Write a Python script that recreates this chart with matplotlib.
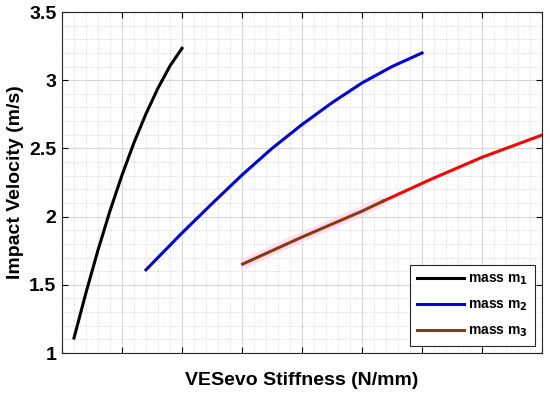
import numpy as np
import matplotlib.pyplot as plt
from matplotlib.ticker import MultipleLocator

plt.rcParams['font.family'] = ['Liberation Sans', 'DejaVu Sans']
plt.rcParams['font.weight'] = 'bold'
plt.rcParams['mathtext.default'] = 'bf'

# mass m1
x1 = [0.2, 0.4, 0.6, 0.8, 1.0, 1.2, 1.4, 1.6, 1.8, 2.0]
v1 = [1.11, 1.442, 1.754, 2.042, 2.304, 2.542, 2.754, 2.942, 3.105, 3.234]
# mass m2
x2 = [1.4, 2.0, 2.5, 3.0, 3.5, 4.0, 4.5, 5.0, 5.5, 6.0]
v2 = [1.61, 1.88, 2.095, 2.305, 2.50, 2.675, 2.835, 2.98, 3.10, 3.20]
# mass m3 (brown part, then red continuation)
x3 = [3.01, 3.5, 4.0, 4.5, 5.0, 5.355]
v3 = [1.652, 1.75, 1.85, 1.945, 2.04, 2.114]
x3r = [5.355, 6.13, 7.0, 8.0]
v3r = [2.114, 2.27, 2.435, 2.598]

fig = plt.figure(figsize=(5.5, 3.95), dpi=100)
ax = fig.add_axes([0.1127, 0.1063, 0.8728, 0.8633])

ax.plot(x1, v1, color='black', lw=2.2, label='mass m$_1$', zorder=4)
ax.plot(x2, v2, color='#0000e0', lw=2.2, label='mass m$_2$', zorder=4)
ax.plot(x3, v3, color='#ffd0ee', lw=7, alpha=0.7, solid_capstyle='butt', zorder=2)
ax.plot(x3r, v3r, color='red', lw=2.2, zorder=3)
ax.plot(x3, v3, color='#8b3a0e', lw=2.2, label='mass m$_3$', zorder=4)

ax.set_xlim(0, 8)
ax.set_ylim(1, 3.5)
ax.xaxis.set_major_locator(MultipleLocator(1))
ax.xaxis.set_minor_locator(MultipleLocator(0.2))
ax.yaxis.set_major_locator(MultipleLocator(0.5))
ax.yaxis.set_minor_locator(MultipleLocator(0.1))
ax.set_xticklabels([])
ax.set_yticks([1, 1.5, 2, 2.5, 3, 3.5])
ax.set_yticklabels(['1', '1.5', '2', '2.5', '3', '3.5'], fontsize=14, fontweight='bold')

ax.tick_params(which='major', direction='in', top=True, right=True, length=4, width=0.8, pad=4)
ax.tick_params(which='minor', length=0)
ax.grid(which='major', color='#d8d8d8', lw=0.8)
ax.grid(which='minor', color='#cccccc', lw=0.6, linestyle=':')
for s in ax.spines.values():
    s.set_color('#262626')
    s.set_linewidth(0.8)

ax.set_xlabel('VESevo Stiffness (N/mm)', fontsize=14, fontweight='bold', labelpad=10)
ax.set_ylabel('Impact Velocity (m/s)', fontsize=14, fontweight='bold', labelpad=4)

leg = ax.legend(loc='lower right', fontsize=10, handlelength=3.4, handletextpad=0.3,
                fancybox=False, framealpha=1, borderpad=0.5, labelspacing=0.75,
                borderaxespad=0.5)
leg.get_frame().set_edgecolor('#262626')
leg.get_frame().set_linewidth(0.8)
for t in leg.get_texts():
    t.set_fontweight('bold')

plt.savefig('out.png', dpi=100)
